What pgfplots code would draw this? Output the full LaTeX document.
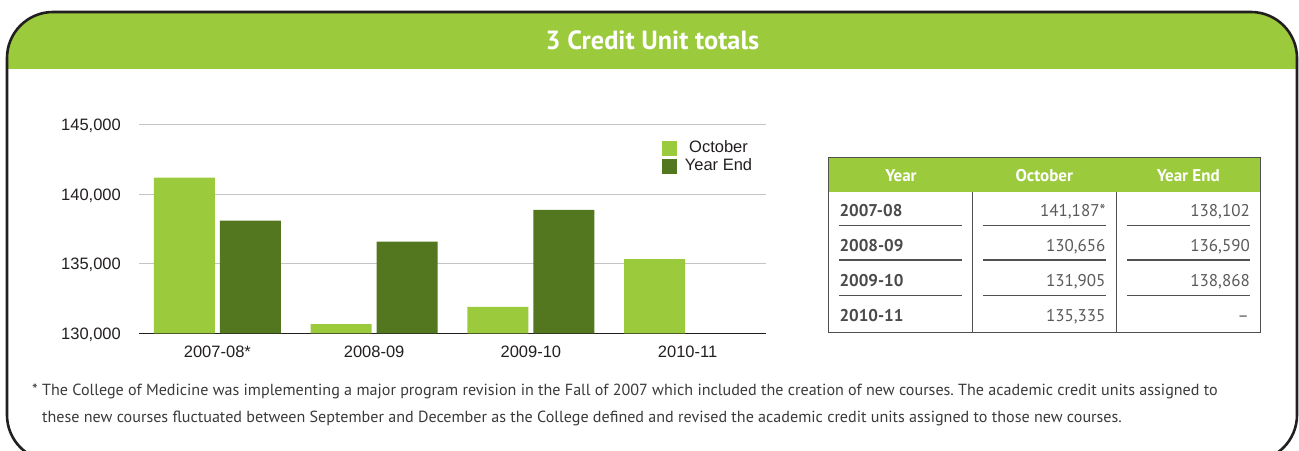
\documentclass[border=0pt]{standalone}
\usepackage{pgfplots}
\pgfplotsset{compat=1.18}
\usepackage{fontspec}
\setmainfont{PT Sans}
\newfontfamily\chartfont{Liberation Sans}
\frenchspacing

\definecolor{lightgreen}{HTML}{9BCA3C}
\definecolor{darkgreen}{HTML}{52771F}
\definecolor{framecol}{HTML}{231F20}
\definecolor{gridgray}{HTML}{C4C4C4}
\definecolor{tabline}{HTML}{505050}
\definecolor{tabtext}{HTML}{4A4A4A}
\definecolor{numtext}{HTML}{5A5A5A}
\definecolor{notetext}{HTML}{3A3A3A}

\pgfplotsset{
  sqlegend/.style={legend image code/.code={\fill[##1] (0pt,-7.35pt) rectangle (14.7pt,7.35pt);}},
}

\begin{document}
\begin{tikzpicture}[x=1pt,y=1pt]
\useasboundingbox (0,0) rectangle (1299,-450);

% panel: green header and rounded frame
\begin{scope}
  \clip (0,-68) rectangle (1299,0);
  \fill[lightgreen, rounded corners=46] (7,-12) rectangle (1297,-500);
\end{scope}
\begin{scope}
  \clip (0,0) rectangle (1299,-450);
  \draw[framecol, line width=2.6, rounded corners=46] (7,-12) rectangle (1297,-461);
\end{scope}
\node[white, inner sep=0pt, anchor=base, font=\bfseries\fontsize{26.3}{30}\selectfont] at (652.5,-49) {3 Credit Unit totals};

% bar chart
\begin{axis}[
  at={(139pt,-333.3pt)}, anchor=south west,
  scale only axis, width=627pt, height=208.6pt,
  xmin=-0.5, xmax=3.5, ymin=130000, ymax=145000,
  xtick={0,1,2,3},
  xticklabels={2007-08*,2008-09,2009-10,2010-11},
  ytick={130000,135000,140000,145000},
  yticklabels={{130,000},{135,000},{140,000},{145,000}},
  scaled y ticks=false,
  tick label style={font=\chartfont\fontsize{16.5}{18}\selectfont, text=framecol,
    inner sep=0pt, text height=11.8pt, text depth=0pt},
  yticklabel style={anchor=east, xshift=-18pt},
  xticklabel style={anchor=north, yshift=-12.5pt},
  major tick length=0pt,
  axis x line*=bottom, axis y line*=left,
  x axis line style={draw=framecol, line width=1.3pt, -},
  y axis line style={draw=none},
  ymajorgrids, grid style={draw=gridgray, line width=1.2pt},
  ybar=5pt, bar width=61pt,
  legend style={at={(0.8341,0.9219)}, anchor=north west, draw=none, fill=none,
    inner sep=0pt, column sep=8pt, row sep=3pt,
    font=\chartfont\fontsize{16.5}{18}\selectfont, text=framecol,
    nodes={inner sep=0pt, text height=11.8pt, text depth=2.9pt}},
]
\addplot[fill=lightgreen, draw=none, sqlegend] coordinates {
  (0,141187) (1,130656) (2,131905) (3,135335)
};
\addplot[fill=darkgreen, draw=none, sqlegend] coordinates {
  (0,138102) (1,136590) (2,138868)
};
\legend{October, Year End}
\end{axis}

% table
\fill[lightgreen] (828.3,-157.3) rectangle (1260.7,-191.7);
\draw[tabline, line width=1.2] (828.3,-157.3) rectangle (1260.7,-332.7);
\draw[tabline, line width=1.2] (972.7,-191.7) -- (972.7,-332.7) (1116.7,-191.7) -- (1116.7,-332.7);
\begin{scope}[every node/.style={inner sep=0pt, anchor=base, text=white, font=\bfseries\fontsize{17}{20}\selectfont}]
  \node at (901,-181.7) {Year};
  \node at (1044.3,-181.7) {October};
  \node at (1188.3,-181.7) {Year End};
\end{scope}
\foreach \y in {225.3,260,295.3} {
  \draw[tabline, line width=1.1] (839,-\y) -- (961.7,-\y) (983,-\y) -- (1105.7,-\y) (1127,-\y) -- (1250,-\y);
}
\begin{scope}[every node/.style={inner sep=0pt, anchor=base west, text=tabtext, font=\bfseries\fontsize{17}{20}\selectfont}]
  \node at (839.3,-216) {2007-08};
  \node at (839.3,-251.3) {2008-09};
  \node at (839.3,-286.6) {2009-10};
  \node at (839.3,-321.9) {2010-11};
\end{scope}
\begin{scope}[every node/.style={inner sep=0pt, anchor=base east, text=numtext, font=\fontsize{17}{20}\selectfont}]
  \node at (1105.7,-216) {141,187*};
  \node at (1105.7,-251.3) {130,656};
  \node at (1105.7,-286.6) {131,905};
  \node at (1105.7,-321.9) {135,335};
  \node at (1250,-216) {138,102};
  \node at (1250,-251.3) {136,590};
  \node at (1250,-286.6) {138,868};
  \node at (1249,-321.9) {--};
\end{scope}

% footnote
\begin{scope}[every node/.style={inner sep=0pt, anchor=mid west, text=notetext, font=\fontsize{16.1}{18}\selectfont}]
  \node at (32,-393) {* The College of Medicine was implementing a major program revision in the Fall of 2007 which included the creation of new courses. The academic credit units assigned to};
  \node at (42,-420) {these new courses fluctuated between September and December as the College defined and revised the academic credit units assigned to those new courses.};
\end{scope}
\end{tikzpicture}
\end{document}
